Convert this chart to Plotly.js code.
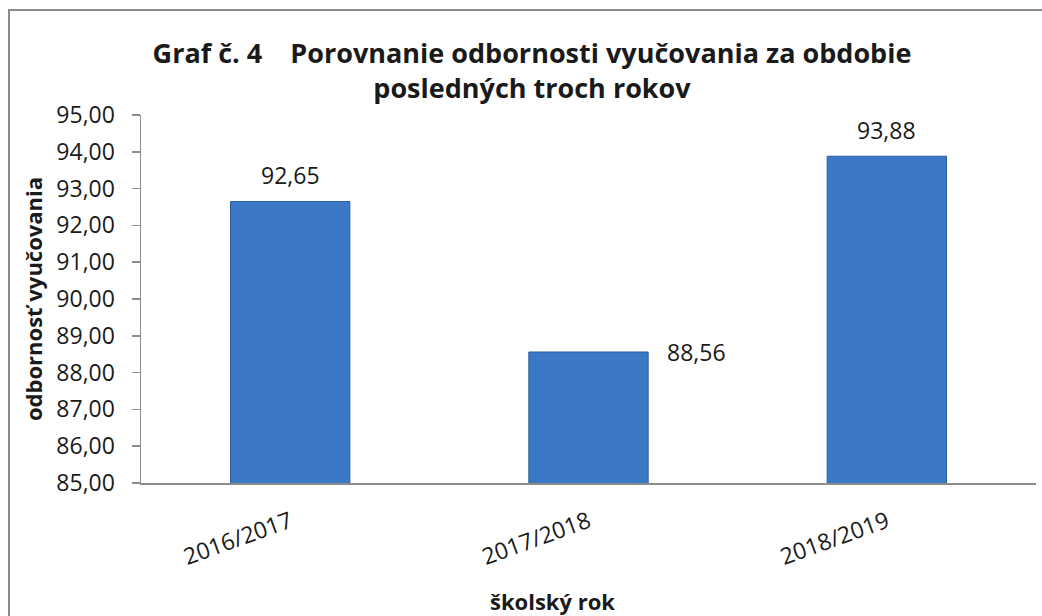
<!DOCTYPE html>
<html>
<head>
<meta charset="utf-8">
<script src="https://cdn.plot.ly/plotly-3.0.1.min.js"></script>
<style>html,body{margin:0;padding:0;background:#fff;}#chart{width:1042px;height:616px;}</style>
</head>
<body>
<div id="chart"></div>
<script>
var categories = ["2016/2017", "2017/2018", "2018/2019"];
var values = [92.65, 88.56, 93.88];
var valueLabels = ["92,65", "88,56", "93,88"];
var yTickVals = [85, 86, 87, 88, 89, 90, 91, 92, 93, 94, 95];
var yTickText = ["85,00", "86,00", "87,00", "88,00", "89,00", "90,00", "91,00", "92,00", "93,00", "94,00", "95,00"];

var FONT = "Open Sans, Lato, sans-serif";
var NB = "\u00a0";

var trace = {
  type: "bar",
  x: categories,
  y: values,
  marker: {color: "#3b78c6", line: {color: "#2b5b98", width: 1}},
  hoverinfo: "x+y"
};

// label offsets per bar (px)
var labelShiftX = [0, 108, 0];
var labelShiftY = [26, 0, 26];
var annotations = categories.map(function (c, i) {
  return {
    x: c, y: values[i], xref: "x", yref: "y",
    text: valueLabels[i], showarrow: false,
    xshift: labelShiftX[i], yshift: labelShiftY[i],
    font: {family: FONT, size: 23, color: "#1a1a1a"}
  };
});
annotations.push({
  xref: "paper", yref: "paper",
  x: (552 - 141) / 895, y: (483 - 601) / 368,
  text: "<b>školský rok</b>", showarrow: false,
  xanchor: "center", yanchor: "middle",
  font: {family: FONT, size: 22, color: "#1a1a1a"}
});
annotations.push({
  xref: "paper", yref: "paper",
  x: (33 - 141) / 895, y: (483 - 299) / 368,
  text: "<b>odbornosť vyučovania</b>", showarrow: false,
  textangle: -90, xanchor: "center", yanchor: "middle",
  font: {family: FONT, size: 22, color: "#1a1a1a"}
});

var layout = {
  width: 1042, height: 616,
  margin: {l: 141, r: 6, t: 115, b: 133},
  paper_bgcolor: "#ffffff", plot_bgcolor: "#ffffff",
  showlegend: false,
  bargap: 0.6,
  title: {
    text: "<b>Graf č. 4" + NB + NB + NB + NB + "Porovnanie odbornosti vyučovania za obdobie<br>posledných troch rokov</b>",
    x: 532 / 1042, xanchor: "center",
    y: 1 - 63 / 616, yanchor: "middle",
    font: {family: FONT, size: 27, color: "#1a1a1a"}
  },
  xaxis: {
    type: "category",
    showline: true, linecolor: "#8c8c8c", linewidth: 1.5,
    ticks: "", tickangle: -20,
    ticklabelstandoff: 15,
    tickfont: {family: FONT, size: 23, color: "#1a1a1a"},
    fixedrange: true
  },
  yaxis: {
    range: [85, 95],
    tickvals: yTickVals, ticktext: yTickText,
    showgrid: false, zeroline: false,
    showline: true, linecolor: "#8c8c8c", linewidth: 1.5,
    ticks: "outside", ticklen: 8, tickcolor: "#8c8c8c", tickwidth: 1.5,
    ticklabelstandoff: 12,
    tickfont: {family: FONT, size: 23, color: "#1a1a1a"},
    fixedrange: true
  },
  annotations: annotations,
  shapes: [{
    type: "rect", xref: "paper", yref: "paper",
    x0: (9 - 141) / 895, x1: (1070 - 141) / 895,
    y0: (483 - 640) / 368, y1: (483 - 10) / 368,
    line: {color: "#8a8a8a", width: 2}, fillcolor: "rgba(0,0,0,0)",
    layer: "below"
  }]
};

Plotly.newPlot("chart", [trace], layout, {displayModeBar: false, staticPlot: true});
</script>
</body>
</html>
